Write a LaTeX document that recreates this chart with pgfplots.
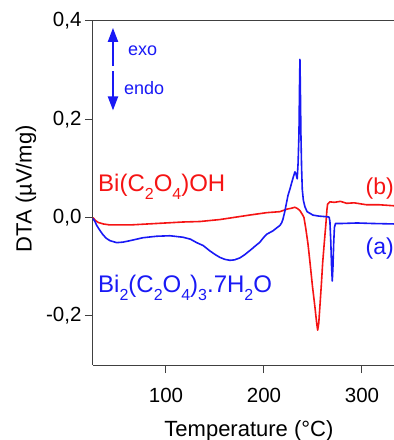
\documentclass[border=0pt]{standalone}
\usepackage{pgfplots}
\pgfplotsset{compat=1.18}
\usepackage{fontspec}
\setmainfont{Liberation Sans}
\usetikzlibrary{arrows.meta}
\definecolor{myred}{RGB}{245,20,20}
\definecolor{myblue}{RGB}{25,25,245}
\newcommand\sub[1]{\raisebox{-0.32em}{\fontsize{16bp}{16bp}\selectfont #1}}

\pgfplotstableread{
x y
25.5 0.0
28 -0.006
30.9 -0.010
36 -0.013
42.8 -0.015
63.3 -0.015
90.5 -0.012
117.6 -0.009
134.7 -0.008
155.1 -0.004
168.4 0.0
185 0.005
202.7 0.010
216.3 0.012
223.1 0.017
228 0.019
231.6 0.021
234.5 0.018
236.7 0.014
239 0.007
240.8 0.0
242.5 -0.02
245 -0.055
247 -0.092
249.5 -0.14
252 -0.182
253.8 -0.215
254.8 -0.229
255.9 -0.215
257.1 -0.180
258.6 -0.135
259.9 -0.092
261.6 -0.05
263.3 -0.010
264.2 0.015
264.9 0.027
267.3 0.032
272 0.031
278 0.033
284.4 0.029
292 0.030
304.8 0.026
318 0.026
332.7 0.024
}\redtab

\pgfplotstableread{
x y
25.5 -0.002
27.5 -0.008
29.3 -0.016
32.5 -0.026
35.7 -0.035
39 -0.042
42.8 -0.047
49.7 -0.051
56 -0.050
63.3 -0.047
76.5 -0.041
90.5 -0.038
104 -0.037
117.3 -0.040
125 -0.044
131.3 -0.051
138 -0.057
144.9 -0.068
150 -0.075
155 -0.081
160 -0.085
165.3 -0.087
170 -0.086
175.5 -0.082
180 -0.076
185.7 -0.067
191 -0.058
195.9 -0.050
199 -0.042
202.7 -0.034
209.2 -0.027
213 -0.021
216.3 -0.016
218.2 -0.010
219.4 -0.003
221 0.010
222.4 0.024
224.5 0.045
226.5 0.058
228.3 0.071
230 0.083
231.6 0.093
232.6 0.089
233.9 0.079
234.8 0.110
235.7 0.170
236.3 0.270
236.7 0.322
237.1 0.270
237.7 0.170
238.4 0.100
239.1 0.057
240.2 0.035
241.8 0.022
244 0.012
250 0.005
256 0.003
262.2 0.002
266.5 0.001
267.3 -0.008
268.2 -0.050
269 -0.100
269.7 -0.129
270.4 -0.100
271.2 -0.050
271.9 -0.020
273 -0.012
280 -0.012
295 -0.011
310 -0.012
332.7 -0.013
}\bluetab

\begin{document}
\begin{tikzpicture}
\begin{axis}[
  width=301bp, height=344bp, scale only axis,
  xmin=25.5, xmax=332.7, ymin=-0.3, ymax=0.4,
  axis x line*=box, axis y line*=left,
  xtick pos=bottom, ytick pos=left,
  axis line style={-, draw=black!75, line width=1bp},
  xtick={100,200,300}, ytick={-0.2,0,0.2,0.4},
  tick align=outside, major tick length=8bp,
  tick style={draw=black!75, line width=1bp},
  tick label style={font=\fontsize{20.5bp}{24bp}\selectfont},
  /pgf/number format/.cd, use comma, fixed, fixed zerofill, precision=1, assume math mode=true,
  /pgfplots/.cd,
  xticklabel style={/pgf/number format/precision=0, /pgf/number format/fixed zerofill=false, yshift=-12bp},
  xlabel={Temperature (°C)},
  xlabel style={font=\fontsize{22bp}{26bp}\selectfont, at={(rel axis cs:0.518,0)}, anchor=base, yshift=-71bp},
  clip=true,
]
\addplot[myred, line width=1.6bp, line join=round] table[x=x,y=y] {\redtab};
\addplot[myblue, line width=1.6bp, line join=round] table[x=x,y=y] {\bluetab};

\node[myred, anchor=base west, inner sep=0pt, font=\fontsize{24bp}{28bp}\selectfont] at (axis cs:30.6,0.053) {Bi(C\sub{2}O\sub{4})OH};
\node[myblue, anchor=base west, inner sep=0pt, font=\fontsize{24bp}{28bp}\selectfont] at (axis cs:30.6,-0.153) {Bi\sub{2}(C\sub{2}O\sub{4})\sub{3}.7H\sub{2}O};
\node[myred, anchor=base east, inner sep=0pt, font=\fontsize{23bp}{27bp}\selectfont] at (axis cs:332.7,0.047) {(b)};
\node[myblue, anchor=base east, inner sep=0pt, font=\fontsize{23bp}{27bp}\selectfont] at (axis cs:332.7,-0.076) {(a)};

\draw[myblue, line width=2bp, -{Stealth[length=14bp,width=10bp,inset=0pt]}] (axis cs:45.9,0.308) -- (axis cs:45.9,0.386);
\draw[myblue, line width=2bp, -{Stealth[length=14bp,width=10bp,inset=0pt]}] (axis cs:45.9,0.298) -- (axis cs:45.9,0.218);
\node[myblue, anchor=base west, inner sep=0pt, font=\fontsize{18bp}{22bp}\selectfont] at (axis cs:61.2,0.329) {exo};
\node[myblue, anchor=base west, inner sep=0pt, font=\fontsize{18bp}{22bp}\selectfont] at (axis cs:57.1,0.251) {endo};

\coordinate (SW) at (rel axis cs:0,0);
\coordinate (NE) at (rel axis cs:1,1);
\coordinate (YL) at (rel axis cs:0,0.512);
\end{axis}
\node[rotate=90, anchor=center, inner sep=0pt, font=\fontsize{22bp}{26bp}\selectfont] at ([xshift=-67bp]YL) {DTA (µV/mg)};
\pgfresetboundingbox
\path[use as bounding box] ([shift={(-93bp,-75bp)}]SW) rectangle ([shift={(0bp,21bp)}]NE);
\end{tikzpicture}
\end{document}
